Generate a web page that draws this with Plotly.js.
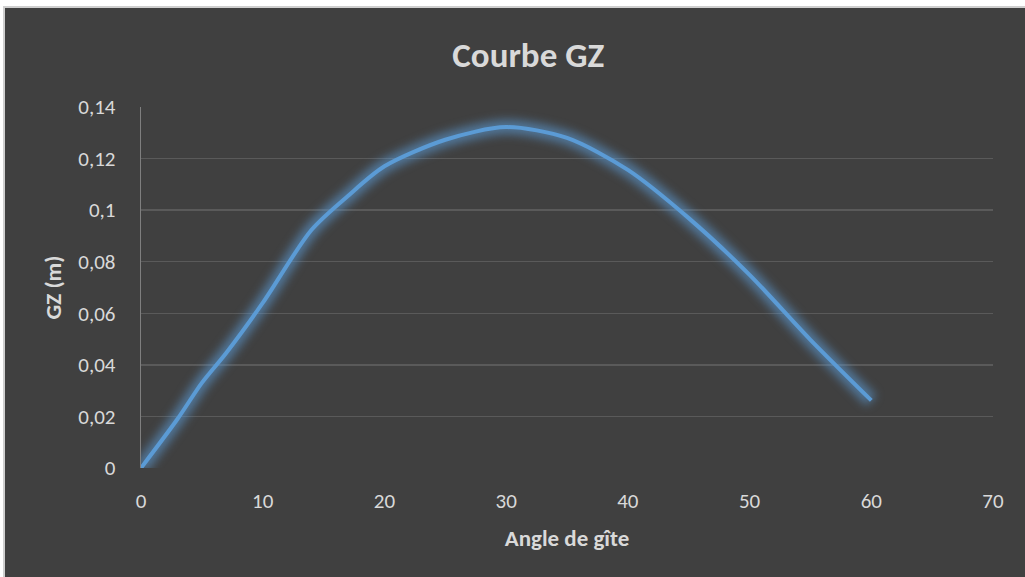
<!DOCTYPE html>
<html>
<head>
<meta charset="utf-8">
<script src="https://cdn.plot.ly/plotly-3.0.1.min.js"></script>
<style>
  html, body { margin: 0; padding: 0; background: #ffffff; width: 1025px; height: 577px; overflow: hidden; }
  #frame { position: absolute; left: 3px; top: 6px; width: 1022px; height: 571px; background: #cfcfcf; }
  #chart { position: absolute; left: 5px; top: 8px; width: 1020px; height: 569px; }
</style>
</head>
<body>
<div id="frame"></div>
<div id="chart"></div>
<script>
const angles = [0, 3, 5, 7, 10, 14, 17, 20, 25, 30, 35, 40, 45, 50, 55, 60];
const gz = [0, 0.019, 0.033, 0.0446, 0.064, 0.0923, 0.1055, 0.117, 0.1273, 0.1322, 0.128, 0.1156, 0.0969, 0.0749, 0.0497, 0.0262];
const yTickVals = [0, 0.02, 0.04, 0.06, 0.08, 0.1, 0.12, 0.14];
const yTickText = ["0", "0,02", "0,04", "0,06", "0,08", "0,1", "0,12", "0,14"];
const xTickVals = [0, 10, 20, 30, 40, 50, 60, 70];

const fontFam = "Carlito, Lato, 'Open Sans', sans-serif";
const txt = "#d9d9d9";

const glow = {
  x: angles, y: gz, type: 'scatter', mode: 'lines',
  line: { color: 'rgba(91,155,213,0.6)', width: 14, shape: 'spline', smoothing: 0.8 },
  hoverinfo: 'skip', showlegend: false
};
const main = {
  x: angles, y: gz, type: 'scatter', mode: 'lines',
  line: { color: '#5b9bd5', width: 4, shape: 'spline', smoothing: 0.8 },
  name: 'GZ', showlegend: false
};

const layout = {
  width: 1020, height: 569,
  paper_bgcolor: '#404040', plot_bgcolor: '#404040',
  margin: { l: 136, r: 32, t: 99, b: 109 },
  title: { text: '<b>Courbe GZ</b>', font: { family: fontFam, size: 35, color: txt }, x: 0.513, xanchor: 'center', y: 0.918, yanchor: 'middle' },
  xaxis: {
    range: [0, 70], tickvals: xTickVals, ticktext: xTickVals.map(String),
    showgrid: false, zeroline: false, showline: false, ticks: '',
    tickfont: { family: fontFam, size: 21, color: txt }, ticklabelstandoff: 18,
    title: { text: '<b>Angle de gîte</b>', font: { family: fontFam, size: 23, color: txt }, standoff: 16 }
  },
  yaxis: {
    range: [0, 0.14], tickvals: yTickVals, ticktext: yTickText,
    showgrid: true, gridcolor: '#5a5a5a', gridwidth: 1.3,
    zeroline: false, showline: true, linecolor: '#7f7f7f', linewidth: 1.3, ticks: '',
    tickfont: { family: fontFam, size: 21, color: txt }, ticklabelstandoff: 20,
    title: { text: '<b>GZ (m)</b>', font: { family: fontFam, size: 23, color: txt }, standoff: 10 }
  },
  showlegend: false
};

Plotly.newPlot('chart', [glow, main], layout, { displayModeBar: false, staticPlot: true }).then(function () {
  const tr = document.querySelectorAll('#chart .scatterlayer .trace');
  if (tr.length) {
    tr[0].querySelectorAll('path.js-line').forEach(function (p) { p.style.filter = 'blur(5px)'; });
  }
});
</script>
</body>
</html>
